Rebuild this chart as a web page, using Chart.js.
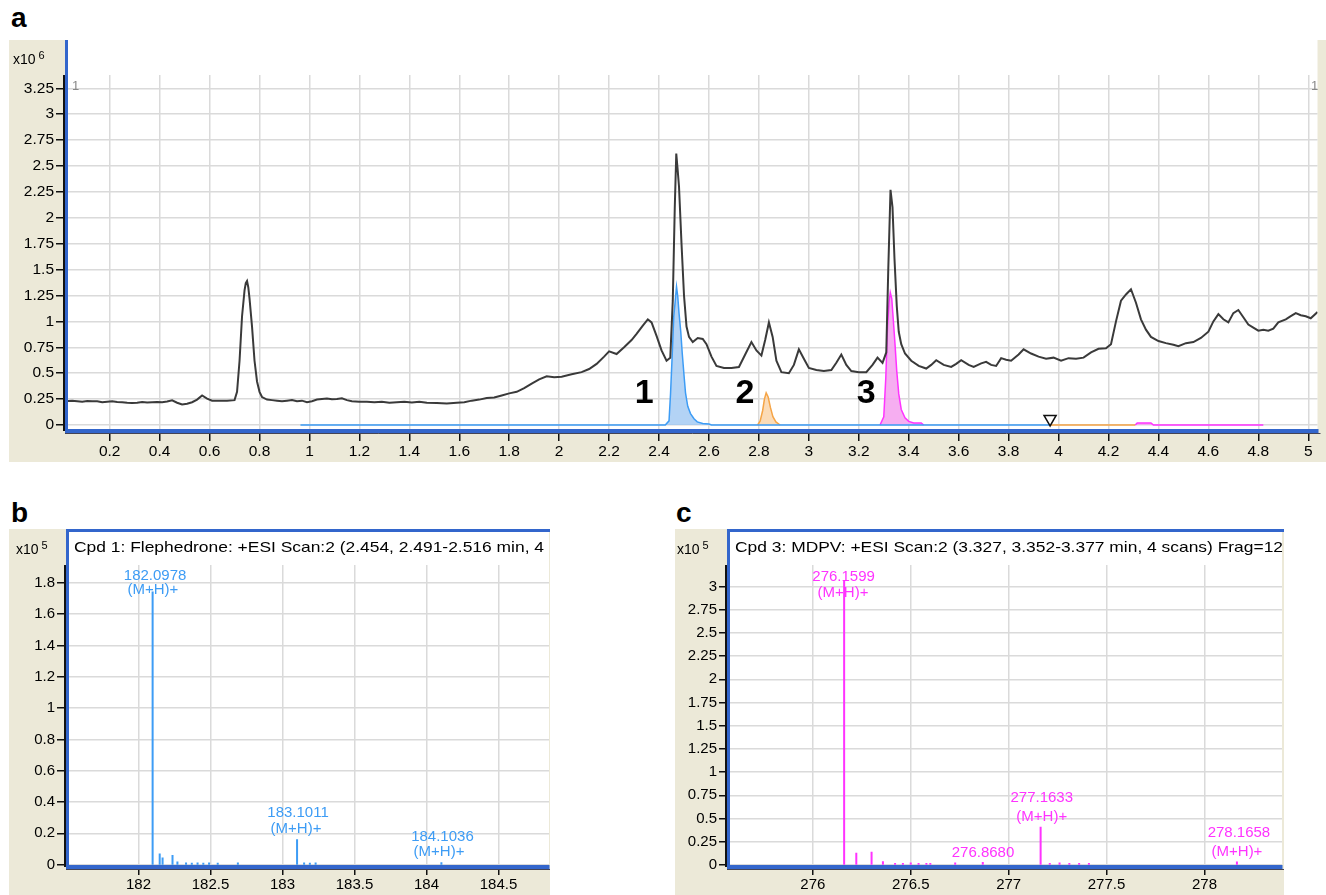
<!DOCTYPE html>
<html>
<head>
<meta charset="utf-8">
<title>TIC and mass spectra</title>
<script src="https://cdn.jsdelivr.net/npm/chart.js@4.4.1/dist/chart.umd.min.js"></script>
<style>
  html, body { margin: 0; background: #fff; }
  body { position: relative; width: 1326px; height: 895px; overflow: hidden;
         font-family: "Liberation Sans", Arial, sans-serif; color: #000; }
  .box { position: absolute; background: #ece9d8; }
  .box canvas { position: absolute; left: 0; top: 0; }
  .tag { position: absolute; font-weight: bold; font-size: 28px; line-height: 28px; }
  .mult { position: absolute; font-size: 14px; line-height: 14px; z-index: 2; }
  .mult span { position: relative; top: -5px; font-size: 11px; margin-left: 3px; }
  .scan { position: absolute; font-size: 13px; line-height: 13px; color: #888; z-index: 2; }
</style>
</head>
<body>
<div class="tag" style="left:11px;top:4px">a</div>
<div class="box" style="left:9px;top:40px;width:1317px;height:422px">
  <canvas id="tic" width="1317" height="422"></canvas>
</div>
<div class="mult" style="left:13px;top:52px">x10<span>6</span></div>
<div class="scan" style="left:72px;top:79px">1</div>
<div class="scan" style="left:1311px;top:79px">1</div>

<div class="tag" style="left:11px;top:499px">b</div>
<div class="box" style="left:9px;top:529px;width:541px;height:366px">
  <canvas id="specB" width="541" height="366"></canvas>
</div>
<div class="mult" style="left:16px;top:542px">x10<span>5</span></div>

<div class="tag" style="left:676px;top:499px">c</div>
<div class="box" style="left:675px;top:529px;width:609px;height:366px">
  <canvas id="specC" width="609" height="366"></canvas>
</div>
<div class="mult" style="left:677px;top:542px">x10<span>5</span></div>

<script>
// ---- panel a: total ion chromatogram (x10^6 counts vs minutes)
const ticTime = [
  0.03, 0.05, 0.07, 0.09, 0.11, 0.13, 0.15, 0.17, 0.19, 0.21,
  0.23, 0.25, 0.27, 0.29, 0.31, 0.33, 0.35, 0.37, 0.39, 0.41,
  0.43, 0.45, 0.47, 0.49, 0.51, 0.53, 0.55, 0.57, 0.59, 0.61,
  0.64, 0.67, 0.70, 0.71, 0.72, 0.73, 0.74, 0.745, 0.75, 0.755,
  0.76, 0.77, 0.78, 0.79, 0.80, 0.81, 0.83, 0.85, 0.87, 0.89,
  0.91, 0.93, 0.95, 0.97, 0.99, 1.01, 1.03, 1.05, 1.07, 1.09,
  1.11, 1.13, 1.15, 1.17, 1.20, 1.23, 1.26, 1.29, 1.32, 1.35,
  1.38, 1.41, 1.44, 1.47, 1.51, 1.55, 1.59, 1.62, 1.65, 1.68,
  1.71, 1.74, 1.77, 1.80, 1.83, 1.86, 1.89, 1.92, 1.95, 1.98,
  2.01, 2.05, 2.09, 2.12, 2.15, 2.18, 2.20, 2.23, 2.26, 2.29,
  2.31, 2.335, 2.355, 2.37, 2.39, 2.41, 2.43, 2.445, 2.455, 2.463,
  2.469, 2.474, 2.48, 2.49, 2.50, 2.51, 2.52, 2.535, 2.555, 2.575,
  2.59, 2.61, 2.63, 2.66, 2.69, 2.72, 2.745, 2.77, 2.79, 2.81,
  2.825, 2.84, 2.855, 2.87, 2.89, 2.92, 2.94, 2.96, 2.98, 3.00,
  3.03, 3.06, 3.09, 3.11, 3.13, 3.15, 3.17, 3.20, 3.23, 3.255,
  3.275, 3.295, 3.31, 3.318, 3.327, 3.335, 3.343, 3.352, 3.36, 3.37,
  3.385, 3.41, 3.44, 3.47, 3.49, 3.51, 3.54, 3.57, 3.59, 3.61,
  3.64, 3.66, 3.69, 3.71, 3.73, 3.75, 3.77, 3.79, 3.81, 3.84,
  3.86, 3.89, 3.92, 3.95, 3.98, 4.01, 4.04, 4.07, 4.10, 4.13,
  4.16, 4.19, 4.21, 4.23, 4.25, 4.27, 4.29, 4.31, 4.33, 4.35,
  4.37, 4.40, 4.43, 4.46, 4.48, 4.51, 4.54, 4.57, 4.60, 4.62,
  4.64, 4.66, 4.68, 4.70, 4.72, 4.74, 4.76, 4.78, 4.80, 4.82,
  4.84, 4.86, 4.88, 4.91, 4.93, 4.95, 4.97, 4.99, 5.01, 5.037,
]
const ticInt = [
  0.230, 0.235, 0.230, 0.225, 0.232, 0.228, 0.230, 0.220, 0.225, 0.228,
  0.222, 0.220, 0.215, 0.212, 0.215, 0.222, 0.218, 0.220, 0.222, 0.220,
  0.226, 0.238, 0.215, 0.198, 0.205, 0.220, 0.245, 0.285, 0.255, 0.235,
  0.235, 0.235, 0.240, 0.320, 0.620, 1.050, 1.300, 1.370, 1.390, 1.330,
  1.220, 0.950, 0.620, 0.420, 0.320, 0.270, 0.245, 0.240, 0.235, 0.230,
  0.235, 0.240, 0.230, 0.235, 0.220, 0.230, 0.245, 0.250, 0.255, 0.248,
  0.250, 0.258, 0.240, 0.230, 0.225, 0.225, 0.220, 0.225, 0.215, 0.220,
  0.225, 0.218, 0.225, 0.215, 0.212, 0.208, 0.215, 0.220, 0.235, 0.245,
  0.260, 0.265, 0.285, 0.305, 0.320, 0.355, 0.400, 0.440, 0.470, 0.460,
  0.465, 0.490, 0.510, 0.540, 0.590, 0.660, 0.710, 0.685, 0.750, 0.820,
  0.880, 0.960, 1.020, 0.990, 0.860, 0.720, 0.620, 0.650, 1.200, 2.100,
  2.620, 2.480, 2.300, 1.750, 1.250, 0.950, 0.850, 0.800, 0.840, 0.830,
  0.780, 0.660, 0.570, 0.550, 0.550, 0.560, 0.680, 0.800, 0.720, 0.670,
  0.820, 0.990, 0.850, 0.620, 0.510, 0.500, 0.580, 0.730, 0.640, 0.550,
  0.530, 0.520, 0.530, 0.600, 0.680, 0.580, 0.520, 0.510, 0.510, 0.580,
  0.650, 0.600, 0.700, 1.500, 2.270, 2.100, 1.600, 1.150, 0.900, 0.780,
  0.690, 0.620, 0.570, 0.545, 0.580, 0.625, 0.580, 0.560, 0.590, 0.625,
  0.580, 0.560, 0.595, 0.610, 0.580, 0.570, 0.645, 0.630, 0.620, 0.680,
  0.730, 0.690, 0.660, 0.640, 0.650, 0.620, 0.645, 0.640, 0.650, 0.700,
  0.735, 0.740, 0.780, 1.000, 1.200, 1.260, 1.310, 1.180, 1.020, 0.920,
  0.850, 0.810, 0.790, 0.775, 0.760, 0.790, 0.800, 0.840, 0.900, 1.000,
  1.070, 1.020, 0.990, 1.080, 1.110, 1.040, 0.970, 0.940, 0.910, 0.920,
  0.910, 0.930, 0.990, 1.020, 1.050, 1.080, 1.060, 1.050, 1.030, 1.090,
]

// extracted ion chromatograms, compounds 1-3 (null = break in trace)
const cpd1Time = [0.964, 2.425, 2.44, 2.446, 2.453, 2.459, 2.465, 2.470, 2.475, 2.48, 2.487, 2.493, 2.50, 2.506, 2.515, 2.526, 2.54, 2.553, 2.575, 2.60, 2.61, 3.962]
const cpd1Int  = [0, 0, 0.04, 0.30, 0.69, 1.05, 1.20, 1.335, 1.24, 1.08, 0.90, 0.69, 0.48, 0.31, 0.18, 0.11, 0.06, 0.03, 0.015, 0.01, 0, 0]
const cpd2Time = [2.795, 2.805, 2.815, 2.822, 2.829, 2.837, 2.846, 2.856, 2.868, 2.885, 3.5, 3.968, 4.307]
const cpd2Int  = [0, 0.04, 0.14, 0.25, 0.31, 0.27, 0.17, 0.08, 0.03, 0, null, 0, 0]
const cpd3Time = [3.285, 3.30, 3.308, 3.315, 3.321, 3.326, 3.332, 3.338, 3.345, 3.352, 3.36, 3.37, 3.385, 3.40, 3.42, 3.45, 3.46, 3.9, 4.307, 4.315, 4.37, 4.38, 4.82]
const cpd3Int  = [0, 0.08, 0.45, 0.95, 1.18, 1.28, 1.22, 1.02, 0.78, 0.52, 0.30, 0.15, 0.07, 0.035, 0.02, 0.02, 0, null, 0, 0.02, 0.02, 0, 0]
const markerTime = [3.966]
const markerInt  = [0.058]
const ticXTicks = [0.2, 0.4, 0.6, 0.8, 1, 1.2, 1.4, 1.6, 1.8, 2, 2.2, 2.4, 2.6, 2.8, 3, 3.2, 3.4, 3.6, 3.8, 4, 4.2, 4.4, 4.6, 4.8, 5]
const ticYTicks = [0, 0.25, 0.5, 0.75, 1, 1.25, 1.5, 1.75, 2, 2.25, 2.5, 2.75, 3, 3.25]

// ---- panel b: Flephedrone spectrum (x10^5 counts vs m/z)
const bMz  = [182.0978, 182.147, 182.167, 182.236, 182.27, 182.33, 182.37, 182.41, 182.45, 182.49, 182.55, 182.69, 183.1011, 183.15, 183.19, 183.23, 184.1036]
const bInt = [1.744, 0.072, 0.045, 0.061, 0.02, 0.013, 0.012, 0.013, 0.012, 0.013, 0.012, 0.013, 0.162, 0.013, 0.012, 0.013, 0.015]
const bXTicks = [182, 182.5, 183, 183.5, 184, 184.5]
const bYTicks = [0, 0.2, 0.4, 0.6, 0.8, 1, 1.2, 1.4, 1.6, 1.8]

// ---- panel c: MDPV spectrum (x10^5 counts vs m/z)
const cMz  = [276.1599, 276.222, 276.30, 276.358, 276.42, 276.46, 276.50, 276.54, 276.58, 276.60, 276.727, 276.868, 277.1633, 277.21, 277.26, 277.31, 277.36, 277.41, 278.1658]
const cInt = [3.07, 0.13, 0.142, 0.04, 0.02, 0.02, 0.025, 0.02, 0.02, 0.02, 0.025, 0.03, 0.41, 0.02, 0.025, 0.02, 0.02, 0.02, 0.035]
const cXTicks = [276, 276.5, 277, 277.5, 278]
const cYTicks = [0, 0.25, 0.5, 0.75, 1, 1.25, 1.5, 1.75, 2, 2.25, 2.5, 2.75, 3]

const BLUE_AXIS = '#3366cc'
const GRID = '#dadada'
const CPD1 = '#3d9cf5'
const CPD2 = '#f5a446'
const CPD3 = '#ff33ff'

Chart.defaults.font.family = '"Liberation Sans", Arial, sans-serif'
Chart.defaults.color = '#000'
Chart.defaults.animation = false
Chart.defaults.plugins.legend.display = false
Chart.defaults.plugins.tooltip.enabled = false

const fmt = v => String(Math.round(v * 100) / 100)
const pts = (xs, ys) => xs.map((x, i) => ({ x, y: ys[i] }))
const sticks = (xs, ys) => xs.flatMap((x, i) => [{ x, y: 0 }, { x, y: ys[i] }, { x, y: null }])

function axis(min, max, tickValues, o) {
  return {
    type: 'linear', min, max,
    afterFit: s => { if (o.horizontal) s.height = o.size; else s.width = o.size },
    afterBuildTicks: s => { s.ticks = tickValues.map(value => ({ value })) },
    grid: { color: GRID, tickColor: '#111', lineWidth: 1.5, tickWidth: 1.5, tickLength: o.tick },
    border: o.border || { display: false },
    ticks: {
      autoSkip: false, maxRotation: 0, padding: o.pad,
      font: { size: o.font },
      callback: v => fmt(v),
    },
  }
}

// white plot background, blue/black frame lines, title line
const frame = {
  id: 'frame',
  beforeDraw(chart, _, o) {
    const { ctx, chartArea: a } = chart
    ctx.save()
    ctx.fillStyle = '#fff'
    ctx.fillRect(a.left, o.whiteTop, a.right - a.left, a.bottom - o.whiteTop)
    ctx.restore()
  },
  afterDraw(chart, _, o) {
    const { ctx, chartArea: a } = chart
    ctx.save()
    ctx.lineWidth = 2
    ctx.strokeStyle = '#111'
    ctx.beginPath(); ctx.moveTo(a.left - 4, a.top); ctx.lineTo(a.left - 4, a.bottom); ctx.stroke()
    ctx.lineWidth = 3
    ctx.strokeStyle = BLUE_AXIS
    ctx.beginPath(); ctx.moveTo(a.left - 1.5, 0); ctx.lineTo(a.left - 1.5, a.bottom + 2); ctx.stroke()
    if (o.topLine) {
      ctx.beginPath(); ctx.moveTo(a.left - 3, 1.5); ctx.lineTo(a.right + 2, 1.5); ctx.stroke()
    }
    ctx.lineWidth = 1
    ctx.strokeStyle = '#445'
    ctx.beginPath(); ctx.moveTo(a.left - 3, a.bottom + 2.5); ctx.lineTo(a.right + 3, a.bottom + 2.5); ctx.stroke()
    if (o.title) {
      ctx.font = '15px "Liberation Sans", Arial, sans-serif'
      ctx.fillStyle = '#000'
      ctx.textBaseline = 'middle'
      const w = ctx.measureText(o.title.text).width
      ctx.translate(a.left + 5, o.title.y)
      ctx.scale(o.title.width / w, 1)
      ctx.fillText(o.title.text, 0, 0)
    }
    ctx.restore()
  },
}

// text notes placed in data coordinates
const notes = {
  id: 'notes',
  afterDatasetsDraw(chart, _, o) {
    const { ctx, scales: { x, y } } = chart
    ctx.save()
    ctx.textAlign = 'center'
    ctx.textBaseline = 'middle'
    ctx.font = o.font
    ctx.fillStyle = o.color
    for (const n of o.items) ctx.fillText(n.text, x.getPixelForValue(n.x), y.getPixelForValue(n.y))
    ctx.restore()
  },
}

new Chart(document.getElementById('tic'), {
  type: 'line',
  data: {
    datasets: [
      { data: pts(markerTime, markerInt), showLine: false, pointStyle: 'triangle', rotation: 180,
        pointRadius: 7, pointBackgroundColor: '#fff', pointBorderColor: '#111', pointBorderWidth: 1.5 },
      { data: pts(ticTime, ticInt), borderColor: '#3a3a3a', borderWidth: 2 },
      { data: pts(cpd1Time, cpd1Int), borderColor: CPD1, borderWidth: 1.5,
        fill: 'origin', backgroundColor: 'rgba(160,200,242,0.8)' },
      { data: pts(cpd2Time, cpd2Int), borderColor: CPD2, borderWidth: 1.5,
        fill: 'origin', backgroundColor: 'rgba(250,210,165,0.8)' },
      { data: pts(cpd3Time, cpd3Int), borderColor: CPD3, borderWidth: 1.5,
        fill: 'origin', backgroundColor: 'rgba(245,160,238,0.85)' },
    ],
  },
  options: {
    responsive: false,
    layout: { padding: { top: 35, right: 3 } },
    elements: { point: { radius: 0 }, line: { tension: 0 } },
    scales: {
      x: axis(0.033, 5.037, ticXTicks, { horizontal: true, size: 31, tick: 10, pad: 1, font: 15.5,
        border: { color: BLUE_AXIS, width: 4 } }),
      y: axis(-0.058, 3.378, ticYTicks, { size: 59, tick: 12, pad: 2, font: 15.5 }),
    },
    plugins: {
      frame: { whiteTop: 0 },
      notes: {
        font: 'bold 34px "Liberation Sans", Arial, sans-serif', color: '#000',
        items: [
          { text: '1', x: 2.341, y: 0.30 },
          { text: '2', x: 2.744, y: 0.30 },
          { text: '3', x: 3.230, y: 0.30 },
        ],
      },
    },
  },
  plugins: [frame, notes],
})

new Chart(document.getElementById('specB'), {
  type: 'line',
  data: { datasets: [{ data: sticks(bMz, bInt), borderColor: CPD1, borderWidth: 2 }] },
  options: {
    responsive: false,
    layout: { padding: { top: 36, right: 1 } },
    elements: { point: { radius: 0 }, line: { tension: 0 } },
    scales: {
      x: axis(181.517, 184.851, bXTicks, { horizontal: true, size: 28, tick: 8, pad: 1, font: 15,
        border: { color: BLUE_AXIS, width: 4 } }),
      y: axis(-0.015, 1.914, bYTicks, { size: 60, tick: 12, pad: 2, font: 15 }),
    },
    plugins: {
      frame: { whiteTop: 3, topLine: true,
        title: { text: 'Cpd 1: Flephedrone: +ESI Scan:2 (2.454, 2.491-2.516 min, 4', width: 470, y: 19 } },
      notes: {
        font: '15px "Liberation Sans", Arial, sans-serif', color: CPD1,
        items: [
          { text: '182.0978', x: 182.115, y: 1.844 },
          { text: '(M+H)+', x: 182.10, y: 1.755 },
          { text: '183.1011', x: 183.108, y: 0.332 },
          { text: '(M+H)+', x: 183.094, y: 0.226 },
          { text: '184.1036', x: 184.111, y: 0.178 },
          { text: '(M+H)+', x: 184.087, y: 0.082 },
        ],
      },
    },
  },
  plugins: [frame, notes],
})

new Chart(document.getElementById('specC'), {
  type: 'line',
  data: { datasets: [{ data: sticks(cMz, cInt), borderColor: CPD3, borderWidth: 2 }] },
  options: {
    responsive: false,
    layout: { padding: { top: 36, right: 2 } },
    elements: { point: { radius: 0 }, line: { tension: 0 } },
    scales: {
      x: axis(275.577, 278.396, cXTicks, { horizontal: true, size: 28, tick: 8, pad: 1, font: 15,
        border: { color: BLUE_AXIS, width: 4 } }),
      y: axis(-0.023, 3.232, cYTicks, { size: 55, tick: 11, pad: 2, font: 15 }),
    },
    plugins: {
      frame: { whiteTop: 3, topLine: true,
        title: { text: 'Cpd 3: MDPV: +ESI Scan:2 (3.327, 3.352-3.377 min, 4 scans) Frag=12', width: 548, y: 19 } },
      notes: {
        font: '15px "Liberation Sans", Arial, sans-serif', color: CPD3,
        items: [
          { text: '276.1599', x: 276.157, y: 3.106 },
          { text: '(M+H)+', x: 276.154, y: 2.927 },
          { text: '277.1633', x: 277.169, y: 0.718 },
          { text: '(M+H)+', x: 277.169, y: 0.519 },
          { text: '276.8680', x: 276.869, y: 0.125 },
          { text: '278.1658', x: 278.176, y: 0.34 },
          { text: '(M+H)+', x: 278.166, y: 0.142 },
        ],
      },
    },
  },
  plugins: [frame, notes],
})
</script>
</body>
</html>
